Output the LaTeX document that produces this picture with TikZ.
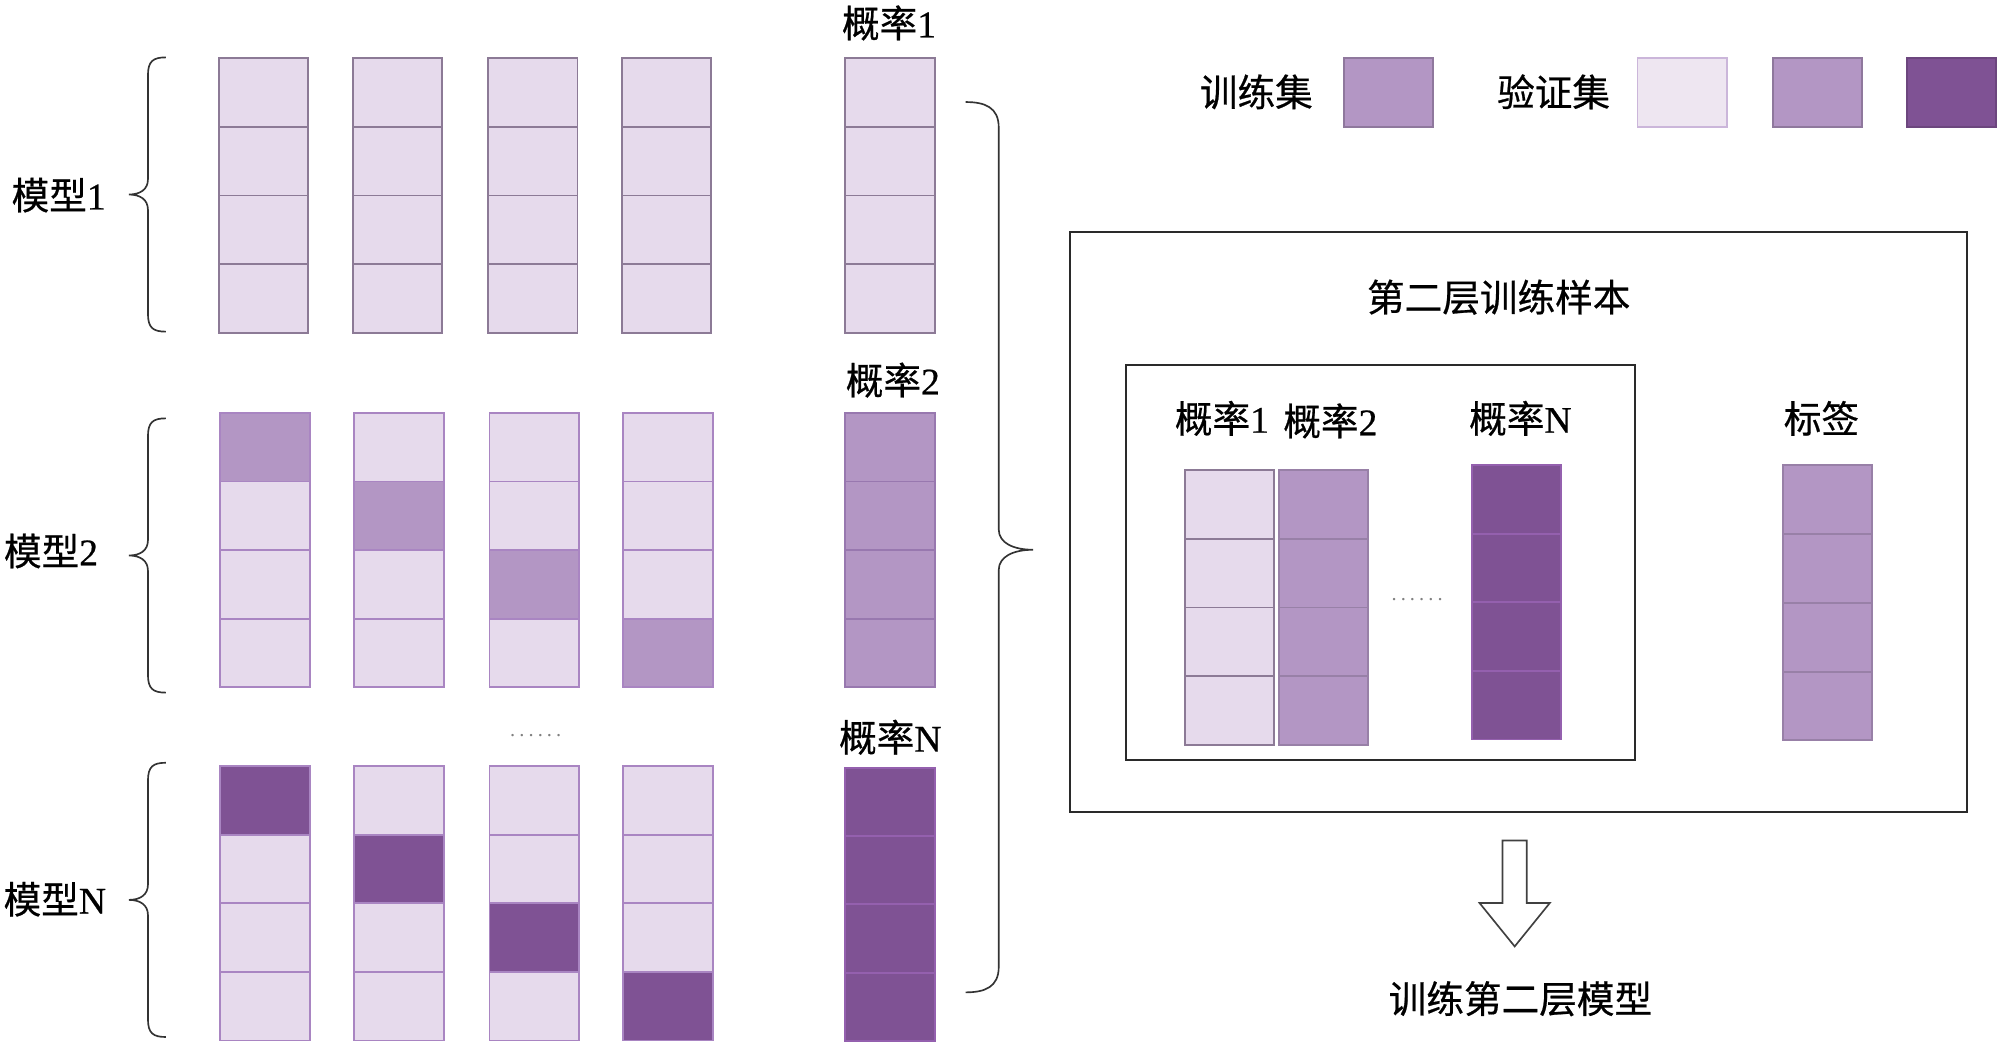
\documentclass[tikz,border=0pt]{standalone}
\usepackage{fontspec}
\setmainfont{Liberation Serif}[FakeBold=0.6]
\newfontfamily\cjk{Noto Sans CJK SC}[FakeBold=0.6]
\newfontfamily\dotfont{Liberation Serif}[LetterSpace=20]
\definecolor{lite}{HTML}{E6DAEC}
\definecolor{vlite}{HTML}{EEE6F1}
\definecolor{med}{HTML}{B396C4}
\definecolor{dark}{HTML}{7F5294}
\definecolor{bordA}{HTML}{8C7A96}
\definecolor{bordB}{HTML}{A985C2}
\definecolor{bordD}{HTML}{9460AE}
\definecolor{frame}{HTML}{2A2A2A}
\tikzset{
  cell/.style={draw=bordA, line width=1.5pt, minimum width=70pt, minimum height=53.75pt, inner sep=0pt, anchor=north west},
  lbl/.style={font=\fontsize{29.5}{31}\selectfont, inner sep=0pt},
  dots/.style={font=\dotfont\fontsize{16}{16}\selectfont, text=gray, inner sep=0pt},
  bracestyle/.style={draw=black!80, line width=1.3pt},
  boxstyle/.style={draw=frame, line width=1.6pt, inner sep=0pt, anchor=north west}
}
\begin{document}
\begin{tikzpicture}[x=1pt,y=-1pt]
\useasboundingbox (0,0) rectangle (1568,819);
% ---------- model 1 ----------
\foreach \c/\x in {1/171,2/276,3/382,4/487} {
  \foreach \r in {1,...,4} {
    \node[cell, fill=lite] (mA-\c-\r) at (\x,{45+(\r-1)*53.75}) {};
  }
}
\foreach \r in {1,...,4} {
  \node[cell, fill=lite] (pA-\r) at (662,{45+(\r-1)*53.75}) {};
}
% ---------- model 2 ----------
\foreach \c/\x in {1/172,2/277,3/383,4/488} {
  \foreach \r in {1,...,4} {
    \ifnum\r=\c \def\fc{med}\else\def\fc{lite}\fi
    \node[cell, draw=bordB, fill=\fc] (mB-\c-\r) at (\x,{323+(\r-1)*53.75}) {};
  }
}
\foreach \r in {1,...,4} {
  \node[cell, draw=bordB!90!black, fill=med] (pB-\r) at (662,{323+(\r-1)*53.75}) {};
}
% ---------- model N ----------
\foreach \c/\x in {1/172,2/277,3/383,4/488} {
  \foreach \r in {1,...,4} {
    \ifnum\r=\c \def\fc{dark}\else\def\fc{lite}\fi
    \node[cell, draw=bordB, fill=\fc] (mN-\c-\r) at (\x,{600+(\r-1)*53.75}) {};
  }
}
\foreach \r in {1,...,4} {
  \node[cell, draw=bordD, fill=dark] (pN-\r) at (662,{601+(\r-1)*53.6}) {};
}
% ---------- labels ----------
\node[lbl] (lp1) at (697,18) {{\cjk 概率}1};
\node[lbl] (lp2) at (700,298) {{\cjk 概率}2};
\node[lbl] (lpN) at (698,578) {{\cjk 概率}N};
\node[dots] (dl) at (420,577) {......};
\node[lbl] (mod1) at (46,153) {{\cjk 模型}1};
\node[lbl] (mod2) at (40,432) {{\cjk 模型}2};
\node[lbl] (modN) at (43,705) {{\cjk 模型}N};
% ---------- left braces ----------
\foreach \t/\b in {45/260, 328/543, 598/813} {
  \pgfmathsetmacro\m{(\t+\b)/2}
  \draw[bracestyle] (130,\t) .. controls (120,\t) and (116,{\t+3}) .. (116,{\t+14})
     -- (116,{\m-12}) .. controls (116,{\m-4}) and (110,\m) .. (101,\m)
     .. controls (110,\m) and (116,{\m+4}) .. (116,{\m+12})
     -- (116,{\b-14}) .. controls (116,{\b-3}) and (120,\b) .. (130,\b);
}
% ---------- right brace ----------
\draw[bracestyle] (757,80) .. controls (772,80) and (783,84) .. (783,100)
   -- (783,415) .. controls (783,426) and (795,431) .. (810,431)
   .. controls (795,431) and (783,436) .. (783,447)
   -- (783,758) .. controls (783,774) and (772,778) .. (757,778);
% ---------- legend ----------
\node[lbl] (ltrain) at (985,72) {\cjk 训练集};
\node[cell, draw=med!80!black, fill=med] (sqT) at (1053,45) {};
\node[lbl] (lval) at (1218,72) {\cjk 验证集};
\node[cell, draw=bordB!60, fill=vlite] (sqV1) at (1283,45) {};
\node[cell, draw=med!80!black, fill=med] (sqV2) at (1389,45) {};
\node[cell, draw=dark!85!black, fill=dark] (sqV3) at (1494,45) {};
% ---------- second layer box ----------
\node[boxstyle, minimum width=703pt, minimum height=455pt] (outer) at (838,181) {};
\node[lbl] (title) at (1175,233) {\cjk 第二层训练样本};
\node[boxstyle, minimum width=399pt, minimum height=310pt] (inner) at (882,285) {};
\node[lbl] (iq1) at (958,328) {{\cjk 概率}1};
\node[lbl] (iq2) at (1043,330) {{\cjk 概率}2};
\node[lbl] (iqN) at (1192,328) {{\cjk 概率}N};
\node[lbl] (itag) at (1428,328) {\cjk 标签};
\foreach \r in {1,...,4} {
  \node[cell, fill=lite] (q1-\r) at (928,{368+(\r-1)*53.75}) {};
  \node[cell, draw=med!85!black, fill=med] (q2-\r) at (1002,{368+(\r-1)*53.75}) {};
  \node[cell, draw=bordD, fill=dark] (qN-\r) at (1153,{364+(\r-1)*53.75}) {};
  \node[cell, draw=med!85!black, fill=med] (tg-\r) at (1397,{364+(\r-1)*54}) {};
}
\node[dots] (di) at (1111,470) {......};
% ---------- arrow ----------
\coordinate (ar) at (1187.5,659);
\draw[line width=1.3pt, draw=black!75, fill=white]
  ([xshift=-9.5pt]ar) -- ([xshift=9.5pt]ar) -- ([xshift=9.5pt,yshift=-49pt]ar)
  -- ([xshift=27.5pt,yshift=-49pt]ar) -- ([yshift=-83pt]ar)
  -- ([xshift=-27.5pt,yshift=-49pt]ar) -- ([xshift=-9.5pt,yshift=-49pt]ar) -- cycle;
\node[lbl] (final) at (1192,783) {\cjk 训练第二层模型};
\end{tikzpicture}
\end{document}
